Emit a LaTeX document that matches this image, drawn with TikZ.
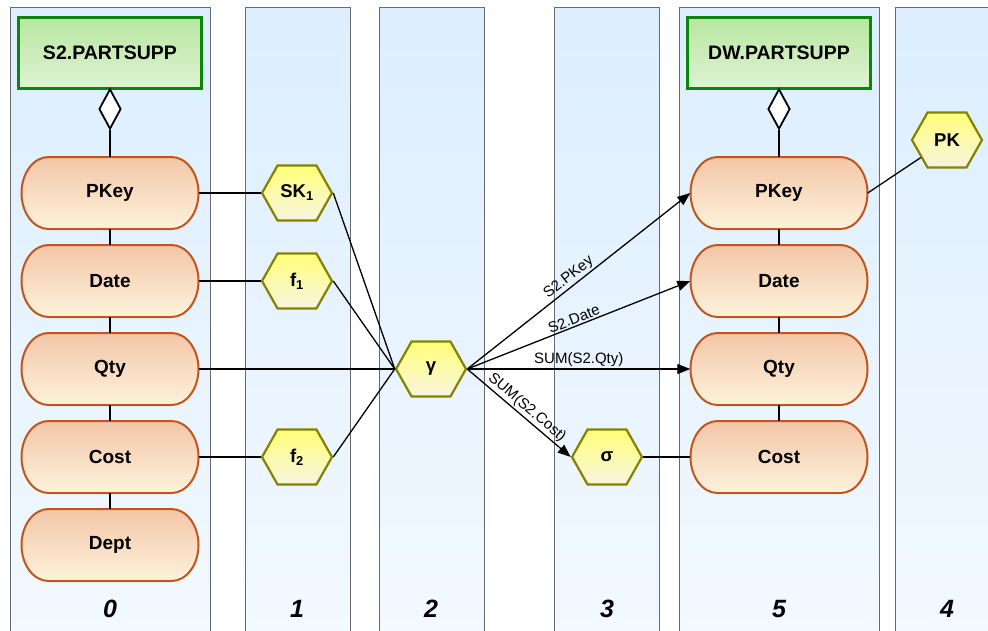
\documentclass[tikz,border=0pt]{standalone}
\usepackage{fontspec}
\setmainfont{Liberation Sans}
\usetikzlibrary{shapes.geometric,shapes.symbols,arrows.meta}

\definecolor{laneTop}{HTML}{DCEEFF}
\definecolor{laneBot}{HTML}{F3F9FF}
\definecolor{laneEdge}{HTML}{6A6A6A}
\definecolor{tabTop}{HTML}{B8E6A0}
\definecolor{tabBot}{HTML}{DEF3D4}
\definecolor{tabBorder}{HTML}{0A860A}
\definecolor{attrTop}{HTML}{F4C6A8}
\definecolor{attrBot}{HTML}{FDF2DB}
\definecolor{attrBorder}{HTML}{C0561E}
\definecolor{fnTop}{HTML}{FFFF78}
\definecolor{fnBot}{HTML}{F8F4E0}
\definecolor{fnBorder}{HTML}{838300}

\tikzset{
  lanebox/.style={draw=laneEdge, line width=0.9pt, top color=laneTop, bottom color=laneBot,
    minimum height=640pt, inner sep=0pt, anchor=north},
  tablebox/.style={draw=tabBorder, line width=2.2pt, top color=tabTop, bottom color=tabBot,
    minimum width=183pt, minimum height=71pt, inner sep=0pt,
    font=\bfseries\fontsize{19.5}{22}\selectfont},
  attrline/.style={draw=attrBorder, line width=2pt, top color=attrTop, bottom color=attrBot},
  attr/.style={minimum width=177pt, minimum height=72pt, inner sep=0pt,
    font=\bfseries\fontsize{19}{22}\selectfont},
  fn/.style={signal, signal to=east and west, signal pointer angle=121,
    draw=fnBorder, line width=2.2pt, top color=fnTop, bottom color=fnBot,
    minimum width=70pt, minimum height=55pt, inner sep=0pt,
    font=\bfseries\fontsize{18.5}{20}\selectfont},
  agg/.style={diamond, draw, fill=white, line width=1.8pt,
    minimum width=22pt, minimum height=40pt, inner sep=0pt},
  link/.style={line width=1.3pt},
  flow/.style={line width=1.3pt, -{Triangle[length=13pt,width=10pt]}},
  flowlabel/.style={font=\fontsize{15}{17}\selectfont, sloped, above, inner sep=1.5pt},
  lanenum/.style={font=\bfseries\itshape\fontsize{25}{28}\selectfont},
}

% attribute outline: a bar with half-elliptic ends, centred on (#1,#2)
\newcommand{\attrpill}[2]{%
  \path[attrline, shift={(#1,#2)}]
    (-61.5,-36) -- (61.5,-36)
    arc[start angle=-90, end angle=90, x radius=27, y radius=36]
    -- (-61.5,36)
    arc[start angle=90, end angle=270, x radius=27, y radius=36]
    -- cycle;}

\begin{document}
\begin{tikzpicture}[x=1pt, y=-1pt]
  \useasboundingbox (0,0) rectangle (988,630);
  \clip (0,0) rectangle (988,630);

  % swimlanes
  \node[lanebox, minimum width=200pt] (lane0) at (110,7) {};
  \node[lanebox, minimum width=105pt] (lane1) at (297.5,7) {};
  \node[lanebox, minimum width=105pt] (lane2) at (431.5,7) {};
  \node[lanebox, minimum width=105pt] (lane3) at (606.5,7) {};
  \node[lanebox, minimum width=200pt] (lane5) at (779,7) {};
  \node[lanebox, minimum width=105pt] (lane4) at (947.5,7) {};

  % attribute outlines
  \attrpill{110}{193}
  \attrpill{110}{281}
  \attrpill{110}{369}
  \attrpill{110}{457}
  \attrpill{110}{545}
  \attrpill{779}{193}
  \attrpill{779}{281}
  \attrpill{779}{369}
  \attrpill{779}{457}

  % source table
  \node[tablebox] (src) at (110,53) {S2.PARTSUPP};
  \node[agg] (srcagg) at (110,109) {};
  \node[attr] (pkey0) at (110,193) {PKey};
  \node[attr] (date0) at (110,281) {Date};
  \node[attr] (qty0)  at (110,369) {Qty};
  \node[attr] (cost0) at (110,457) {Cost};
  \node[attr] (dept0) at (110,545) {Dept};

  % target table
  \node[tablebox] (dst) at (779,53) {DW.PARTSUPP};
  \node[agg] (dstagg) at (779,109) {};
  \node[attr] (pkey5) at (779,193) {PKey};
  \node[attr] (date5) at (779,281) {Date};
  \node[attr] (qty5)  at (779,369) {Qty};
  \node[attr] (cost5) at (779,457) {Cost};

  % operations
  \node[fn] (sk)  at (297,193) {SK\textsubscript{1}};
  \node[fn] (f1)  at (297,281) {f\textsubscript{1}};
  \node[fn] (f2)  at (297,457) {f\textsubscript{2}};
  \node[fn] (gam) at (431,369) {γ};
  \node[fn] (sig) at (607,457) {σ};
  \node[fn] (pk)  at (947,140) {PK};

  % table / attribute tree
  \draw[link] (srcagg.south) -- (pkey0.north);
  \draw[link] (pkey0.south) -- (date0.north);
  \draw[link] (date0.south) -- (qty0.north);
  \draw[link] (qty0.south) -- (cost0.north);
  \draw[link] (cost0.south) -- (dept0.north);
  \draw[link] (dstagg.south) -- (pkey5.north);
  \draw[link] (pkey5.south) -- (date5.north);
  \draw[link] (date5.south) -- (qty5.north);
  \draw[link] (qty5.south) -- (cost5.north);

  % inputs to operations
  \draw[link] (pkey0.east) -- (sk.west);
  \draw[link] (date0.east) -- (f1.west);
  \draw[link] (qty0.east) -- (gam.west);
  \draw[link] (cost0.east) -- (f2.west);
  \draw[link] (sk.east) -- (gam.west);
  \draw[link] (f1.east) -- (gam.west);
  \draw[link] (f2.east) -- (gam.west);

  % aggregation outputs
  \draw[flow] (gam.east) -- node[flowlabel, pos=0.48] {S2.PKey} (pkey5.west);
  \draw[flow] (gam.east) -- node[flowlabel, pos=0.49] {S2.Date} (date5.west);
  \draw[flow] (gam.east) -- node[flowlabel, pos=0.5] {SUM(S2.Qty)} (qty5.west);
  \draw[flow] (gam.east) -- node[flowlabel, pos=0.52] {SUM(S2.Cost)} (sig.west);
  \draw[link] (sig.east) -- (cost5.west);
  \draw[link] (pkey5.east) -- (pk);

  % lane numbers
  \node[lanenum] (n0) at (110,609) {0};
  \node[lanenum] (n1) at (297,609) {1};
  \node[lanenum] (n2) at (431,609) {2};
  \node[lanenum] (n3) at (607,609) {3};
  \node[lanenum] (n5) at (779,609) {5};
  \node[lanenum] (n4) at (947,609) {4};
\end{tikzpicture}
\end{document}
